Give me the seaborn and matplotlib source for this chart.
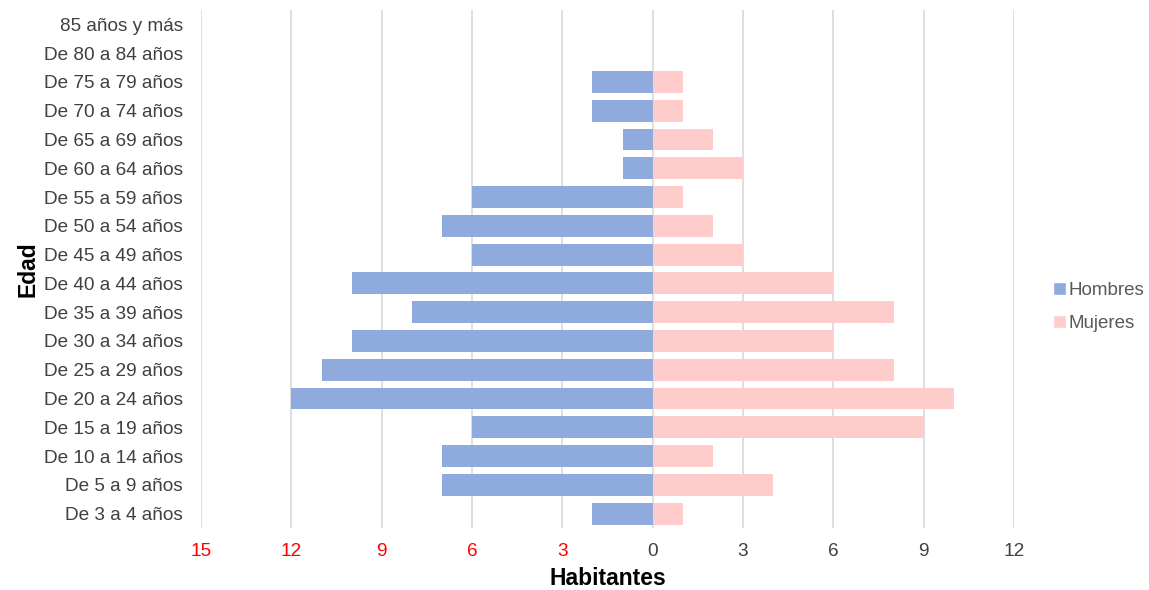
import matplotlib
matplotlib.use("Agg")
import matplotlib.pyplot as plt
from matplotlib.patches import Patch
import seaborn as sns
import pandas as pd

# Age groups, listed from the oldest (top) to the youngest (bottom)
grupos = [
    "85 años y más", "De 80 a 84 años", "De 75 a 79 años", "De 70 a 74 años",
    "De 65 a 69 años", "De 60 a 64 años", "De 55 a 59 años", "De 50 a 54 años",
    "De 45 a 49 años", "De 40 a 44 años", "De 35 a 39 años", "De 30 a 34 años",
    "De 25 a 29 años", "De 20 a 24 años", "De 15 a 19 años", "De 10 a 14 años",
    "De 5 a 9 años", "De 3 a 4 años",
]
hombres = [0, 0, 2, 2, 1, 1, 6, 7, 6, 10, 8, 10, 11, 12, 6, 7, 7, 2]
mujeres = [0, 0, 1, 1, 2, 3, 1, 2, 3, 6, 8, 6, 8, 10, 9, 2, 4, 1]
ticks = [-15, -12, -9, -6, -3, 0, 3, 6, 9, 12]

color_h = "#8FAADC"
color_m = "#FFCCCC"

df = pd.DataFrame({"Edad": grupos, "Hombres": [-v for v in hombres], "Mujeres": mujeres})

sns.set_theme(style="white")
plt.rcParams["font.family"] = ["Liberation Sans", "DejaVu Sans"]

fig = plt.figure(figsize=(11.49, 5.90), dpi=100)
ax = fig.add_axes([0.175, 0.105, 0.7075, 0.878])

sns.barplot(data=df, y="Edad", x="Hombres", order=grupos, color=color_h,
            saturation=1, width=0.76, linewidth=0, ax=ax, zorder=3)
sns.barplot(data=df, y="Edad", x="Mujeres", order=grupos, color=color_m,
            saturation=1, width=0.76, linewidth=0, ax=ax, zorder=3)

ax.set_xlim(-15, 12)
ax.set_ylim(17.5, -0.5)
ax.set_xticks(ticks)
ax.set_xticklabels([str(abs(t)) for t in ticks])
for lbl, t in zip(ax.get_xticklabels(), ticks):
    lbl.set_color("#FF0000" if t < 0 else "#404040")
ax.tick_params(axis="x", labelsize=13.7, length=0, pad=11)
ax.tick_params(axis="y", labelsize=13.7, length=0, pad=13, labelcolor="#404040")
ax.grid(axis="x", color="#D9D9D9", linewidth=1.2, zorder=0)
ax.set_axisbelow(True)
for s in ax.spines.values():
    s.set_visible(False)

ax.set_xlabel("Habitantes", fontsize=16.5, fontweight="bold", color="black", labelpad=5)
ax.set_ylabel("Edad", fontsize=16.5, fontweight="bold", color="black", labelpad=3)

handles = [Patch(facecolor=color_h, label="Hombres"), Patch(facecolor=color_m, label="Mujeres")]
fig.legend(handles=handles, loc="center left", bbox_to_anchor=(0.902, 0.48),
           frameon=False, fontsize=13.5, handlelength=0.7, handleheight=0.7,
           handletextpad=0.1, labelspacing=0.85, labelcolor="#595959")

fig.savefig("out.png", dpi=100)
